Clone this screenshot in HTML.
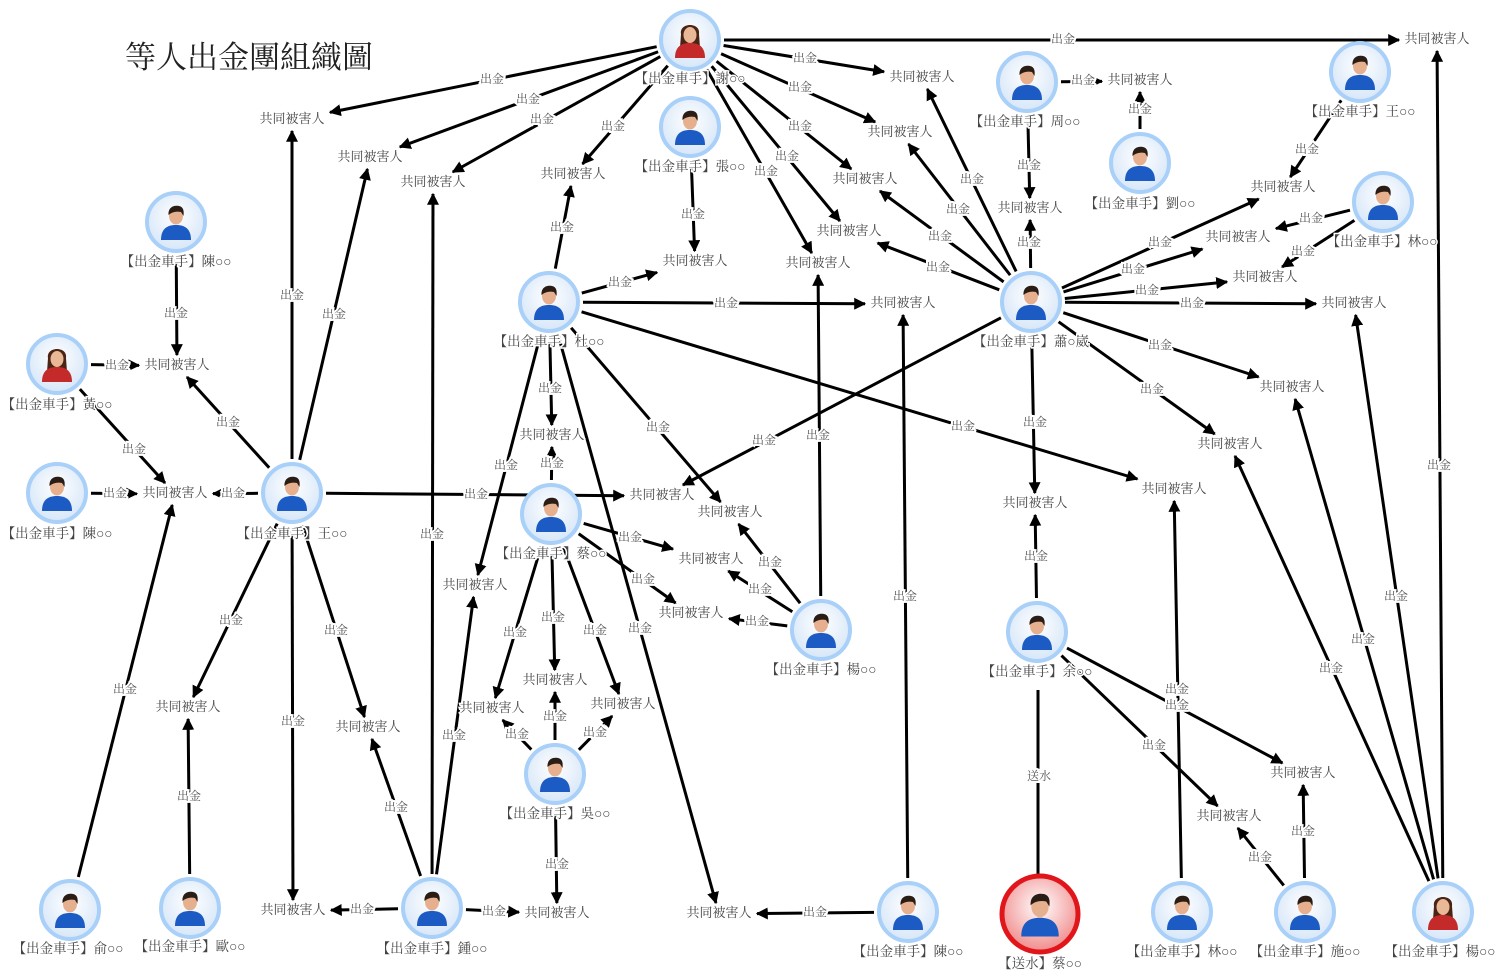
<!DOCTYPE html>
<html><head><meta charset="utf-8">
<style>
html,body{margin:0;padding:0;background:#fff;}
svg{display:block;}
text{font-family:"Liberation Serif","Noto Serif CJK SC","Noto Sans CJK TC",serif;}
.v{font-size:13px;fill:#444;text-anchor:middle;dominant-baseline:middle;paint-order:stroke;stroke:#fff;stroke-width:3px;}
.e{font-size:12px;fill:#555;text-anchor:middle;dominant-baseline:middle;paint-order:stroke;stroke:#fff;stroke-width:4px;}
.n{font-size:13.5px;fill:#444;text-anchor:middle;dominant-baseline:middle;paint-order:stroke;stroke:#fff;stroke-width:3px;}
</style></head><body>
<svg id="s" width="1500" height="976" viewBox="0 0 1500 976" xmlns="http://www.w3.org/2000/svg">
<defs>
<marker id="ar" viewBox="0 0 10 10" refX="9" refY="5" markerWidth="4" markerHeight="4" orient="auto" markerUnits="strokeWidth">
<path d="M0,0 L10,5 L0,10 z" fill="#000"/></marker>
<radialGradient id="gb" cx="50%" cy="40%" r="60%"><stop offset="0" stop-color="#ffffff"/><stop offset="1" stop-color="#d6e6f8"/></radialGradient>
<radialGradient id="gr" cx="50%" cy="40%" r="60%"><stop offset="0" stop-color="#ffffff"/><stop offset="1" stop-color="#f18a8a"/></radialGradient>
<g id="m">
<circle r="29" fill="url(#gb)" stroke="#a9d0f8" stroke-width="4"/>
<path d="M-15,18 C-15,6 -8,3 0,3 C8,3 15,6 15,18 Z" fill="#1d5bc4"/>
<ellipse cx="0" cy="-6" rx="7" ry="8.5" fill="#e6b08e"/>
<path d="M-7.5,-7 C-8,-15 -2,-17 3,-16 C8,-15 8,-10 7.5,-6 L5,-10 C0,-11 -4,-10 -7.5,-7 Z" fill="#2a1d16"/>
</g>
<g id="f">
<circle r="29" fill="url(#gb)" stroke="#a9d0f8" stroke-width="4"/>
<path d="M-9,-6 C-11,-18 11,-18 9,-6 L10,8 L-10,8 Z" fill="#4a2414"/>
<path d="M-15,18 C-15,6 -8,3 0,3 C8,3 15,6 15,18 Z" fill="#c42a2a"/>
<ellipse cx="0" cy="-5" rx="6.5" ry="8" fill="#e9b896"/>
</g>
</defs>
<g id="edges"></g>

<text x="125" y="61" style="font-size:31px;fill:#222;dominant-baseline:middle">等人出金團組織圖</text>

<g>
<text x="1437" y="40" class="v">共同被害人</text>
<text x="922" y="78" class="v">共同被害人</text>
<text x="1140" y="81" class="v">共同被害人</text>
<text x="292" y="120" class="v">共同被害人</text>
<text x="370" y="158" class="v">共同被害人</text>
<text x="433" y="183" class="v">共同被害人</text>
<text x="573" y="175" class="v">共同被害人</text>
<text x="900" y="133" class="v">共同被害人</text>
<text x="865" y="180" class="v">共同被害人</text>
<text x="1030" y="209" class="v">共同被害人</text>
<text x="1283" y="188" class="v">共同被害人</text>
<text x="1238" y="238" class="v">共同被害人</text>
<text x="849" y="232" class="v">共同被害人</text>
<text x="818" y="264" class="v">共同被害人</text>
<text x="695" y="262" class="v">共同被害人</text>
<text x="1265" y="278" class="v">共同被害人</text>
<text x="903" y="304" class="v">共同被害人</text>
<text x="1354" y="304" class="v">共同被害人</text>
<text x="177" y="366" class="v">共同被害人</text>
<text x="1292" y="388" class="v">共同被害人</text>
<text x="552" y="436" class="v">共同被害人</text>
<text x="1230" y="445" class="v">共同被害人</text>
<text x="175" y="494" class="v">共同被害人</text>
<text x="662" y="496" class="v">共同被害人</text>
<text x="730" y="513" class="v">共同被害人</text>
<text x="1174" y="490" class="v">共同被害人</text>
<text x="1035" y="504" class="v">共同被害人</text>
<text x="711" y="560" class="v">共同被害人</text>
<text x="475" y="586" class="v">共同被害人</text>
<text x="691" y="614" class="v">共同被害人</text>
<text x="555" y="681" class="v">共同被害人</text>
<text x="188" y="708" class="v">共同被害人</text>
<text x="492" y="709" class="v">共同被害人</text>
<text x="623" y="705" class="v">共同被害人</text>
<text x="368" y="728" class="v">共同被害人</text>
<text x="1303" y="774" class="v">共同被害人</text>
<text x="1229" y="817" class="v">共同被害人</text>
<text x="293" y="911" class="v">共同被害人</text>
<text x="557" y="914" class="v">共同被害人</text>
<text x="719" y="914" class="v">共同被害人</text>
</g>

<g>
<text class="e" x="1063" y="40">出金</text><text class="e" x="805" y="59">出金</text><text class="e" x="492" y="80">出金</text><text class="e" x="528" y="100">出金</text><text class="e" x="542" y="120">出金</text><text class="e" x="613" y="127">出金</text><text class="e" x="800" y="88">出金</text><text class="e" x="800" y="127">出金</text><text class="e" x="787" y="157">出金</text><text class="e" x="766" y="172">出金</text><text class="e" x="693" y="215">出金</text><text class="e" x="1083" y="81">出金</text><text class="e" x="1140" y="110">出金</text><text class="e" x="1029" y="166">出金</text><text class="e" x="1307" y="150">出金</text><text class="e" x="1311" y="219">出金</text><text class="e" x="1303" y="252">出金</text><text class="e" x="176" y="314">出金</text><text class="e" x="117" y="366">出金</text><text class="e" x="134" y="450">出金</text><text class="e" x="115" y="494">出金</text><text class="e" x="292" y="296">出金</text><text class="e" x="334" y="315">出金</text><text class="e" x="228" y="423">出金</text><text class="e" x="233" y="494">出金</text><text class="e" x="476" y="495">出金</text><text class="e" x="231" y="621">出金</text><text class="e" x="293" y="722">出金</text><text class="e" x="336" y="631">出金</text><text class="e" x="620" y="283">出金</text><text class="e" x="726" y="304">出金</text><text class="e" x="963" y="427">出金</text><text class="e" x="550" y="389">出金</text><text class="e" x="658" y="428">出金</text><text class="e" x="506" y="466">出金</text><text class="e" x="640" y="629">出金</text><text class="e" x="562" y="228">出金</text><text class="e" x="972" y="180">出金</text><text class="e" x="958" y="210">出金</text><text class="e" x="940" y="237">出金</text><text class="e" x="938" y="268">出金</text><text class="e" x="1029" y="243">出金</text><text class="e" x="1160" y="243">出金</text><text class="e" x="1133" y="270">出金</text><text class="e" x="1147" y="291">出金</text><text class="e" x="1192" y="304">出金</text><text class="e" x="1160" y="346">出金</text><text class="e" x="1152" y="390">出金</text><text class="e" x="1035" y="423">出金</text><text class="e" x="764" y="441">出金</text><text class="e" x="552" y="464">出金</text><text class="e" x="630" y="538">出金</text><text class="e" x="643" y="580">出金</text><text class="e" x="515" y="633">出金</text><text class="e" x="553" y="618">出金</text><text class="e" x="595" y="631">出金</text><text class="e" x="555" y="717">出金</text><text class="e" x="517" y="735">出金</text><text class="e" x="595" y="733">出金</text><text class="e" x="557" y="865">出金</text><text class="e" x="770" y="563">出金</text><text class="e" x="760" y="590">出金</text><text class="e" x="757" y="622">出金</text><text class="e" x="818" y="436">出金</text><text class="e" x="362" y="910">出金</text><text class="e" x="494" y="912">出金</text><text class="e" x="432" y="535">出金</text><text class="e" x="396" y="808">出金</text><text class="e" x="454" y="736">出金</text><text class="e" x="125" y="690">出金</text><text class="e" x="189" y="797">出金</text><text class="e" x="815" y="913">出金</text><text class="e" x="905" y="597">出金</text><text class="e" x="1036" y="557">出金</text><text class="e" x="1154" y="746">出金</text><text class="e" x="1177" y="690">出金</text><text class="e" x="1177" y="706">出金</text><text class="e" x="1303" y="832">出金</text><text class="e" x="1260" y="858">出金</text><text class="e" x="1439" y="466">出金</text><text class="e" x="1396" y="597">出金</text><text class="e" x="1363" y="640">出金</text><text class="e" x="1331" y="669">出金</text>
<text class="e" x="1039" y="777">送水</text>
</g>

<use href="#f" x="690" y="40"/><text class="n" x="690" y="80">【出金車手】謝○○</text>
<use href="#m" x="690" y="127"/><text class="n" x="690" y="168">【出金車手】張○○</text>
<use href="#m" x="1027" y="82"/><text class="n" x="1025" y="123">【出金車手】周○○</text>
<use href="#m" x="1360" y="72"/><text class="n" x="1360" y="113">【出金車手】王○○</text>
<use href="#m" x="1140" y="163"/><text class="n" x="1140" y="205">【出金車手】劉○○</text>
<use href="#m" x="1383" y="202"/><text class="n" x="1382" y="243">【出金車手】林○○</text>
<use href="#m" x="176" y="222"/><text class="n" x="176" y="263">【出金車手】陳○○</text>
<use href="#m" x="549" y="302"/><text class="n" x="549" y="343">【出金車手】杜○○</text>
<use href="#m" x="1031" y="302"/><text class="n" x="1031" y="343">【出金車手】蕭○崴</text>
<use href="#f" x="57" y="364"/><text class="n" x="57" y="406">【出金車手】黃○○</text>
<use href="#m" x="57" y="493"/><text class="n" x="57" y="535">【出金車手】陳○○</text>
<use href="#m" x="292" y="493"/><text class="n" x="292" y="535">【出金車手】王○○</text>
<use href="#m" x="551" y="514"/><text class="n" x="551" y="555">【出金車手】蔡○○</text>
<use href="#m" x="821" y="630"/><text class="n" x="821" y="671">【出金車手】楊○○</text>
<use href="#m" x="1037" y="632"/><text class="n" x="1037" y="673">【出金車手】余○○</text>
<use href="#m" x="555" y="774"/><text class="n" x="555" y="815">【出金車手】吳○○</text>
<use href="#m" x="70" y="910"/><text class="n" x="68" y="950">【出金車手】俞○○</text>
<use href="#m" x="190" y="908"/><text class="n" x="190" y="948">【出金車手】歐○○</text>
<use href="#m" x="432" y="908"/><text class="n" x="432" y="950">【出金車手】鍾○○</text>
<use href="#m" x="908" y="912"/><text class="n" x="908" y="953">【出金車手】陳○○</text>
<g transform="translate(1040,914)">
<circle r="38" fill="url(#gr)" stroke="#e0161a" stroke-width="5"/>
<g transform="scale(1.25)"><path d="M-15,18 C-15,6 -8,3 0,3 C8,3 15,6 15,18 Z" fill="#1d5bc4"/>
<ellipse cx="0" cy="-6" rx="7" ry="8.5" fill="#e6b08e"/>
<path d="M-7.5,-7 C-8,-15 -2,-17 3,-16 C8,-15 8,-10 7.5,-6 L5,-10 C0,-11 -4,-10 -7.5,-7 Z" fill="#2a1d16"/></g>
</g><text class="n" x="1040" y="965">【送水】蔡○○</text>
<use href="#m" x="1182" y="912"/><text class="n" x="1182" y="953">【出金車手】林○○</text>
<use href="#m" x="1305" y="912"/><text class="n" x="1305" y="953">【出金車手】施○○</text>
<use href="#f" x="1443" y="912"/><text class="n" x="1440" y="953">【出金車手】楊○○</text>
</svg>
<script>
var P={A:[690,40],B:[690,127],C:[1027,82],D:[1360,72],E:[1140,163],F:[1383,202],G:[176,222],H:[549,302],I:[1031,302],J:[57,364],K:[57,493],L:[292,493],M:[551,514],N:[821,630],O:[1037,632],P:[555,774],Q:[70,910],R:[190,908],S:[432,908],T:[908,912],U:[1040,914],V:[1182,912],W:[1305,912],X:[1443,912]};
var E={A:[[1437,40],[922,78],[292,120],[370,158],[433,183],[573,175],[900,133],[865,180],[849,232],[818,264]],
B:[[695,262]],C:[[1140,81],[1030,209]],E:[[1140,81]],D:[[1283,188]],F:[[1238,238],[1265,278]],G:[[177,366]],J:[[177,366],[175,494]],K:[[175,494]],
L:[[292,120],[370,158],[177,366],[175,494],[662,496],[188,708],[293,911],[368,728]],
H:[[695,262],[903,304],[1174,490],[552,436],[730,513],[475,586],[719,914],[573,175]],
I:[[922,78],[900,133],[865,180],[849,232],[1030,209],[1283,188],[1238,238],[1265,278],[1354,304],[1292,388],[1230,445],[1035,504],[662,496]],
M:[[552,436],[711,560],[691,614],[492,709],[555,681],[623,705]],P:[[555,681],[492,709],[623,705],[557,914]],
N:[[730,513],[711,560],[691,614],[818,264]],S:[[293,911],[557,914],[433,183],[368,728],[475,586]],Q:[[175,494]],R:[[188,708]],
T:[[719,914],[903,304]],O:[[1035,504],[1229,817],[1303,774]],V:[[1174,490]],W:[[1303,774],[1229,817]],X:[[1437,40],[1354,304],[1292,388],[1230,445]]};
var g=document.getElementById('edges'),ns='http://www.w3.org/2000/svg';
function ln(x1,y1,x2,y2,a){var l=document.createElementNS(ns,'line');l.setAttribute('x1',x1);l.setAttribute('y1',y1);l.setAttribute('x2',x2);l.setAttribute('y2',y2);l.setAttribute('stroke','#000');l.setAttribute('stroke-width','3');if(a)l.setAttribute('marker-end','url(#ar)');g.appendChild(l);}
for(var k in E){var s=P[k];E[k].forEach(function(v){var dx=v[0]-s[0],dy=v[1]-s[1],L=Math.hypot(dx,dy),ux=dx/L,uy=dy/L;
var t=Math.min(Math.abs(ux)>1e-6?38/Math.abs(ux):1e9,Math.abs(uy)>1e-6?11/Math.abs(uy):1e9);
ln(s[0]+ux*34,s[1]+uy*34,v[0]-ux*t,v[1]-uy*t,true);});}
ln(1038,876,1038,690,false);
</script>
</body></html>
